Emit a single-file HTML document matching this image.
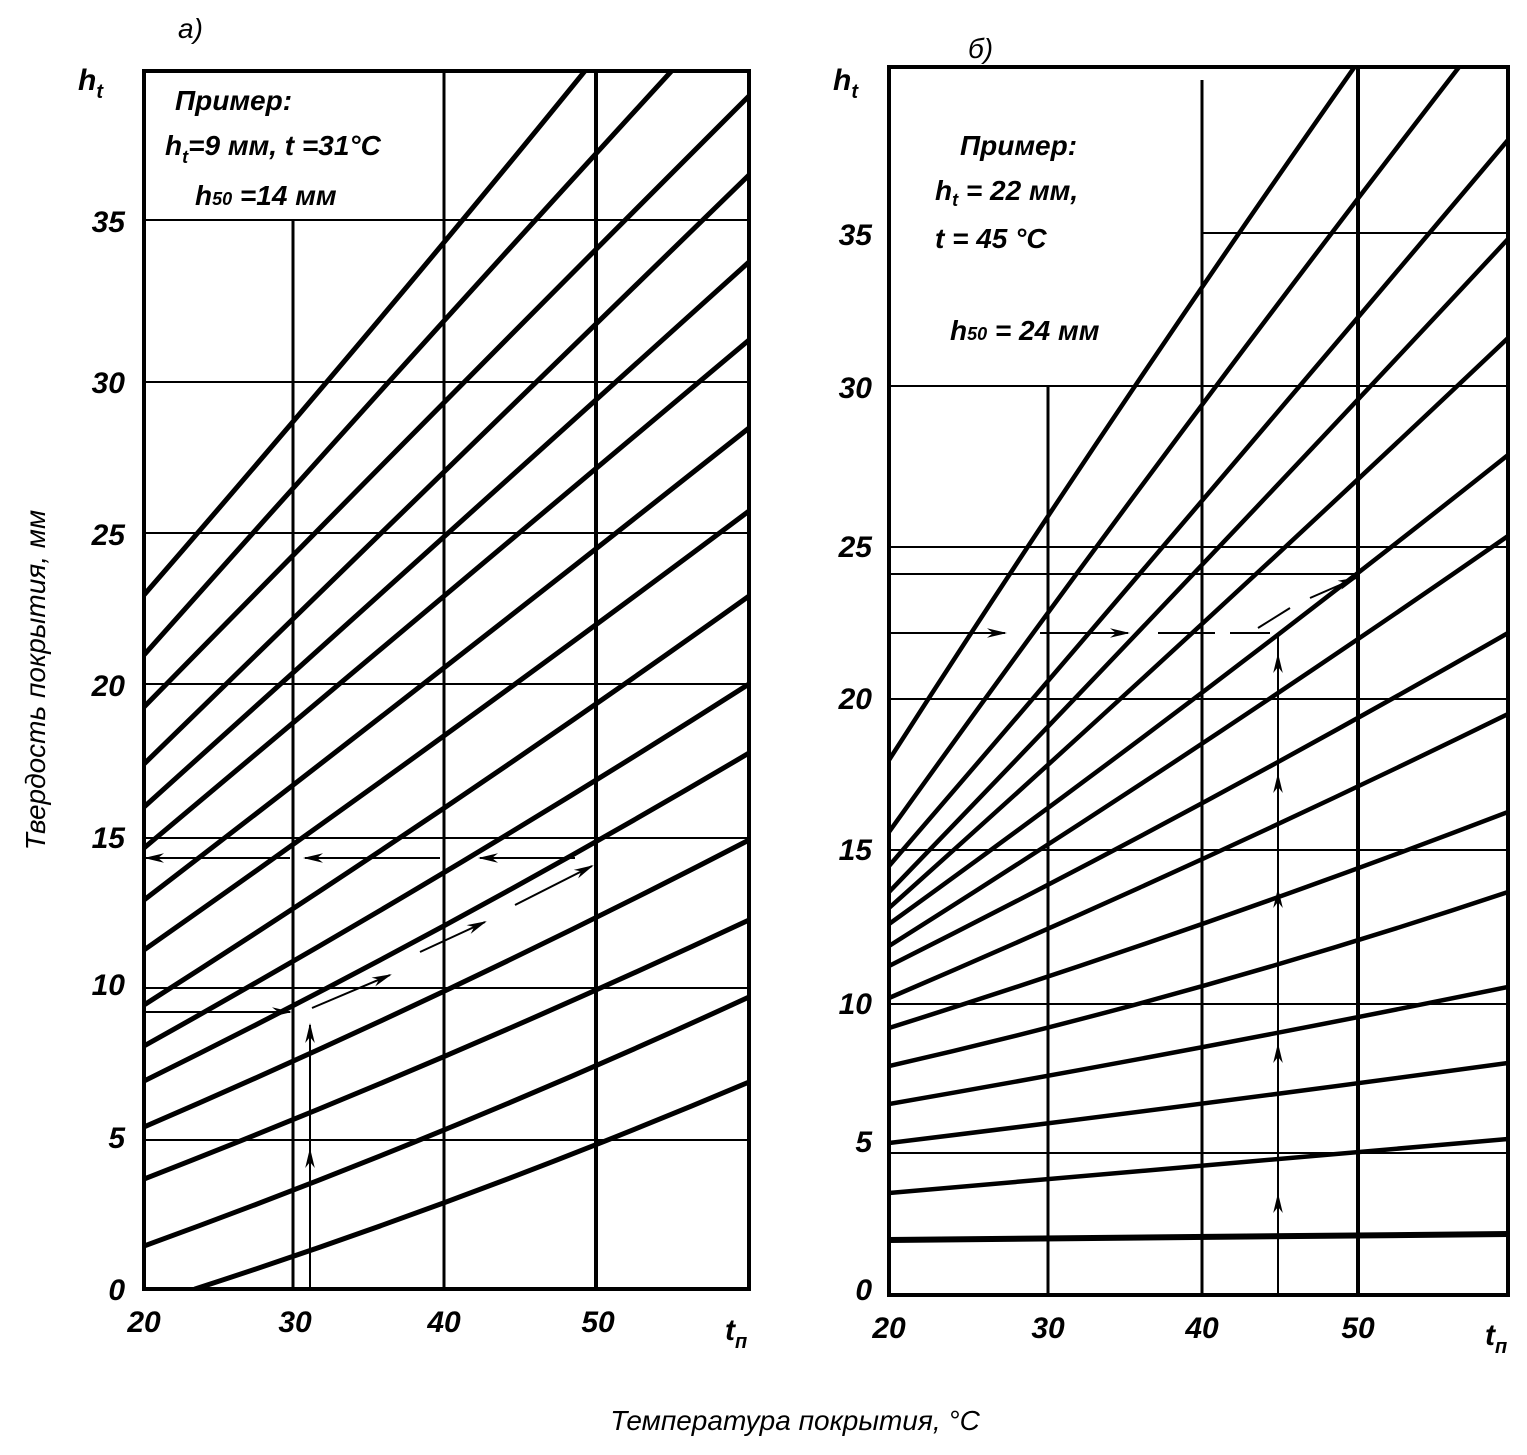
<!DOCTYPE html>
<html><head><meta charset="utf-8"><style>
body{margin:0;background:#fff}
svg{display:block}
text{font-family:"Liberation Sans",sans-serif;font-style:italic;fill:#000}
.t{font-size:30px;font-weight:bold}
.b{font-size:28px}
</style></head><body>
<svg width="1527" height="1455" viewBox="0 0 1527 1455" xmlns="http://www.w3.org/2000/svg">
<defs>
<clipPath id="cl"><rect x="144" y="71" width="605" height="1218"/></clipPath>
<clipPath id="cr"><rect x="889" y="67" width="619" height="1228"/></clipPath>
<marker id="ar" viewBox="0 0 10 10" refX="9" refY="5" markerWidth="20" markerHeight="12" orient="auto" markerUnits="userSpaceOnUse" preserveAspectRatio="none"><path d="M0,1 L10,5 L0,9 L3,5 Z" fill="#000"/></marker>
</defs>
<g stroke="#000" fill="none">
<!-- LEFT CHART grid -->
<rect x="144" y="71" width="605" height="1218" stroke-width="4"/>
<g stroke-width="2">
<line x1="144" y1="220" x2="749" y2="220"/>
<line x1="144" y1="382" x2="749" y2="382"/>
<line x1="144" y1="533" x2="749" y2="533"/>
<line x1="144" y1="684" x2="749" y2="684"/>
<line x1="144" y1="838" x2="749" y2="838"/>
<line x1="144" y1="988" x2="749" y2="988"/>
<line x1="144" y1="1140" x2="749" y2="1140"/>
</g>
<line x1="293" y1="220" x2="293" y2="1289" stroke-width="3"/>
<line x1="444" y1="71" x2="444" y2="1289" stroke-width="3"/>
<line x1="596" y1="71" x2="596" y2="1289" stroke-width="4"/>
<!-- left curves -->
<g clip-path="url(#cl)" stroke-width="5" stroke-linecap="round">
<path d="M195,1289 Q470,1200 749,1082"/>
<path d="M144,1246 Q450,1135 749,997"/>
<path d="M144,1179 Q450,1060 749,920"/>
<path d="M144,1127 Q450,995 749,840"/>
<path d="M144,1081 Q450,930 749,753"/>
<path d="M144,1046 Q450,875 749,684"/>
<path d="M144,1005 Q450,810 749,596"/>
<path d="M144,950 Q450,735 749,511"/>
<path d="M144,900 Q450,665 749,428"/>
<path d="M144,848 Q450,590 749,340"/>
<path d="M144,807 Q450,530 749,262"/>
<path d="M144,764 Q450,465 749,175"/>
<path d="M144,707 Q450,395 749,96"/>
<path d="M144,655 Q420,345 700,40"/>
<path d="M144,595 Q400,300 610,40"/>
</g>
<!-- left example -->
<g stroke-width="2">
<line x1="144" y1="1012" x2="290" y2="1012" marker-end="url(#ar)"/>
<line x1="310" y1="1289" x2="310" y2="1150" marker-end="url(#ar)"/>
<line x1="310" y1="1160" x2="310" y2="1025" marker-end="url(#ar)"/>
<line x1="312" y1="1008" x2="390" y2="975" marker-end="url(#ar)"/>
<line x1="420" y1="952" x2="485" y2="922" marker-end="url(#ar)"/>
<line x1="515" y1="905" x2="592" y2="866" marker-end="url(#ar)"/>
<line x1="575" y1="858" x2="480" y2="858" marker-end="url(#ar)"/>
<line x1="440" y1="858" x2="305" y2="858" marker-end="url(#ar)"/>
<line x1="290" y1="858" x2="146" y2="858" marker-end="url(#ar)"/>
</g>

<!-- RIGHT CHART grid -->
<rect x="889" y="67" width="619" height="1228" stroke-width="4"/>
<g stroke-width="2">
<line x1="1202" y1="233" x2="1508" y2="233"/>
<line x1="889" y1="386" x2="1508" y2="386"/>
<line x1="889" y1="547" x2="1508" y2="547"/>
<line x1="889" y1="574" x2="1358" y2="574"/>
<line x1="889" y1="699" x2="1508" y2="699"/>
<line x1="889" y1="850" x2="1508" y2="850"/>
<line x1="889" y1="1004" x2="1508" y2="1004"/>
<line x1="889" y1="1153" x2="1508" y2="1153"/>
</g>
<line x1="1048" y1="386" x2="1048" y2="1295" stroke-width="3"/>
<line x1="1202" y1="80" x2="1202" y2="1295" stroke-width="3"/>
<line x1="1358" y1="67" x2="1358" y2="1295" stroke-width="4"/>
<!-- right curves -->
<g clip-path="url(#cr)" stroke-width="4.5" stroke-linecap="round">
<path d="M889,1240 L1508,1234" stroke-width="6"/>
<path d="M889,1193 Q1200,1165 1508,1139"/>
<path d="M889,1143 Q1200,1105 1508,1063"/>
<path d="M889,1104 Q1200,1050 1508,987"/>
<path d="M889,1066 Q1200,995 1508,892"/>
<path d="M889,1028 Q1200,930 1508,812"/>
<path d="M889,998 Q1200,865 1508,714"/>
<path d="M889,966 Q1200,810 1508,633"/>
<path d="M889,946 Q1200,750 1508,536"/>
<path d="M889,924 Q1200,700 1508,455"/>
<path d="M889,908 Q1200,630 1508,338"/>
<path d="M889,892 Q1200,570 1508,239"/>
<path d="M889,866 Q1200,505 1508,140"/>
<path d="M889,832 Q1170,440 1480,40"/>
<path d="M889,760 Q1120,400 1370,45"/>
</g>
<!-- right example -->
<g stroke-width="2">
<line x1="889" y1="633" x2="1005" y2="633" marker-end="url(#ar)"/>
<line x1="1040" y1="633" x2="1128" y2="633" marker-end="url(#ar)"/>
<line x1="1158" y1="633" x2="1215" y2="633"/>
<line x1="1230" y1="633" x2="1270" y2="633"/>
<line x1="1278" y1="1295" x2="1278" y2="1195" marker-end="url(#ar)"/>
<line x1="1278" y1="1195" x2="1278" y2="1045" marker-end="url(#ar)"/>
<line x1="1278" y1="1045" x2="1278" y2="890" marker-end="url(#ar)"/>
<line x1="1278" y1="890" x2="1278" y2="775" marker-end="url(#ar)"/>
<line x1="1278" y1="775" x2="1278" y2="655" marker-end="url(#ar)"/>
<line x1="1278" y1="655" x2="1278" y2="636"/>
<line x1="1258" y1="628" x2="1290" y2="608"/>
<line x1="1310" y1="598" x2="1356" y2="578" marker-end="url(#ar)"/>
</g>
</g>

<!-- texts -->
<text x="178" y="38" class="b" font-size="34">а)</text>
<text x="968" y="58" class="b" font-size="34">б)</text>
<text x="78" y="90" class="t">h<tspan font-size="20" dy="8">t</tspan></text>
<text x="833" y="90" class="t">h<tspan font-size="20" dy="8">t</tspan></text>
<g class="t" text-anchor="end">
<text x="125" y="232">35</text><text x="125" y="393">30</text><text x="125" y="545">25</text>
<text x="125" y="696">20</text><text x="125" y="848">15</text><text x="125" y="995">10</text>
<text x="125" y="1148">5</text><text x="125" y="1300">0</text>
<text x="872" y="245">35</text><text x="872" y="398">30</text><text x="872" y="557">25</text>
<text x="872" y="709">20</text><text x="872" y="860">15</text><text x="872" y="1014">10</text>
<text x="872" y="1152">5</text><text x="872" y="1300">0</text>
</g>
<g class="t" text-anchor="middle">
<text x="144" y="1332">20</text><text x="295" y="1332">30</text><text x="444" y="1332">40</text><text x="598" y="1332">50</text>
<text x="889" y="1338">20</text><text x="1048" y="1338">30</text><text x="1202" y="1338">40</text><text x="1358" y="1338">50</text>
</g>
<text x="725" y="1340" class="t">t<tspan font-size="20" dy="8">п</tspan></text>
<text x="1485" y="1345" class="t">t<tspan font-size="20" dy="8">п</tspan></text>
<g font-weight="bold">
<text x="175" y="110" class="b">Пример:</text>
<text x="165" y="155" class="b">h<tspan font-size="18" dy="8">t</tspan><tspan dy="-8">=9 мм, t =31°C</tspan></text>
<text x="195" y="205" class="b">h<tspan font-size="18">50</tspan> =14 мм</text>
<text x="960" y="155" class="b">Пример:</text>
<text x="935" y="200" class="b">h<tspan font-size="18" dy="6">t</tspan><tspan dy="-6"> = 22 мм,</tspan></text>
<text x="935" y="248" class="b">t  = 45 °C</text>
<text x="950" y="340" class="b">h<tspan font-size="18">50</tspan> = 24 мм</text>
</g>
<text x="795" y="1430" class="b" text-anchor="middle">Температура покрытия, °C</text>
<text transform="translate(45,680) rotate(-90)" class="b" text-anchor="middle">Твердость покрытия, мм</text>
</svg>
</body></html>
